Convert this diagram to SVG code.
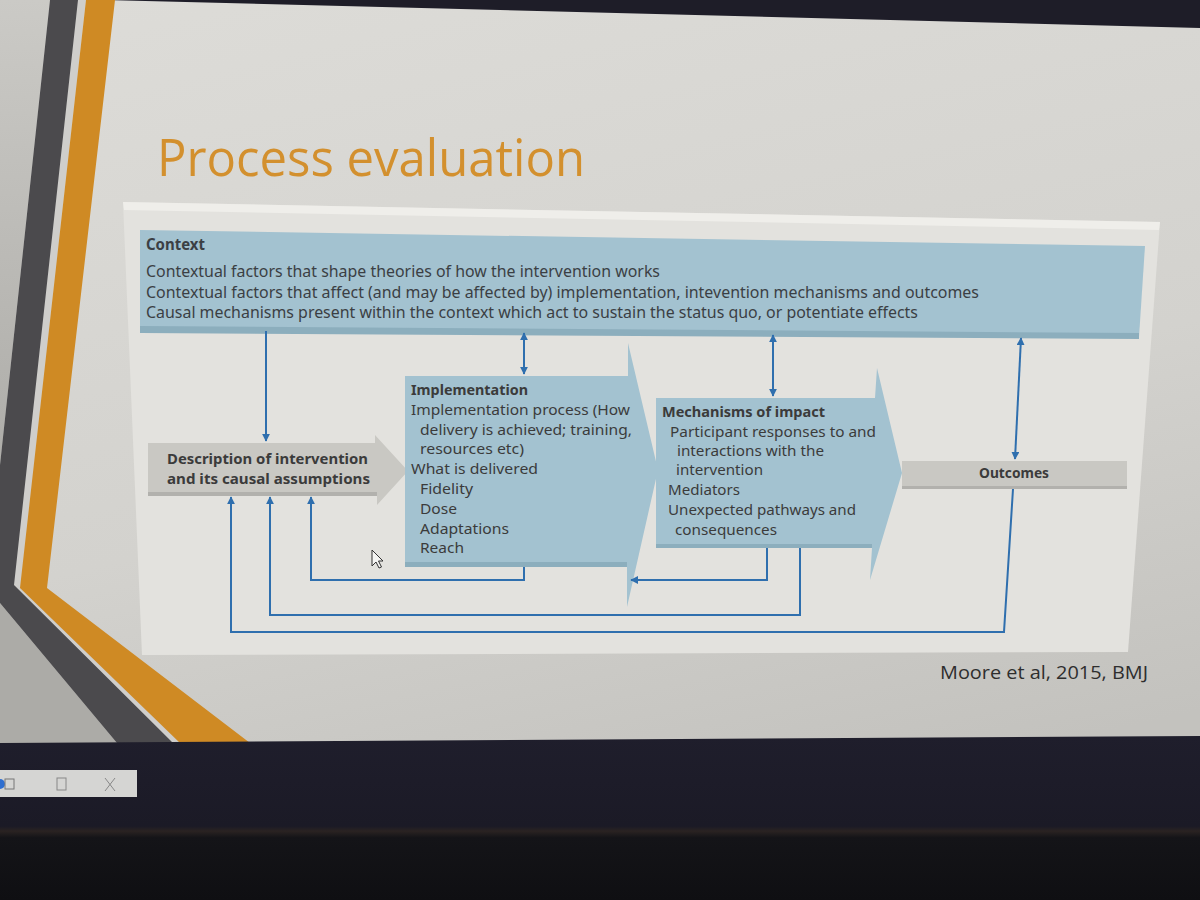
<svg xmlns="http://www.w3.org/2000/svg" width="1200" height="900" viewBox="0 0 1200 900">
<defs>
<linearGradient id="slideBg" x1="0" y1="0" x2="0.3" y2="1">
<stop offset="0" stop-color="#dddcd8"/>
<stop offset="0.6" stop-color="#d3d2ce"/>
<stop offset="1" stop-color="#c3c2be"/>
</linearGradient>
<linearGradient id="leftBg" x1="0" y1="0" x2="0" y2="1">
<stop offset="0" stop-color="#cbcac6"/>
<stop offset="1" stop-color="#aeada9"/>
</linearGradient>
<linearGradient id="bottomBg" x1="0" y1="0" x2="0" y2="1">
<stop offset="0" stop-color="#1f1e2c"/>
<stop offset="0.55" stop-color="#1b1a26"/>
<stop offset="0.58" stop-color="#2a2322"/>
<stop offset="0.62" stop-color="#141418"/>
<stop offset="1" stop-color="#0f0f12"/>
</linearGradient>
<marker id="ah" viewBox="0 0 10 10" refX="9" refY="5" markerWidth="8" markerHeight="8" markerUnits="userSpaceOnUse" orient="auto-start-reverse">
<path d="M0,0 L10,5 L0,10 Z" fill="#2f6fae"/>
</marker>
<style>
.conn{fill:none;stroke:#2f6fae;stroke-width:2}
.t{font-family:"Noto Sans","Open Sans","Liberation Sans",sans-serif;font-size:15px;fill:#3b3b3b}
.tc{font-family:"Noto Sans","Open Sans","Liberation Sans",sans-serif;font-size:16px;fill:#3b3f44}
.b{font-weight:bold}
.blue{fill:#a3c2d0}
.blueShade{fill:#8caebd}
.gray{fill:#c9c8c3}
.grayShade{fill:#b2b1ad}
</style>
</defs>

<!-- slide background -->
<rect x="0" y="0" width="1200" height="900" fill="url(#slideBg)"/>
<polygon points="0,0 50,0 0,465" fill="url(#leftBg)"/>
<polygon points="0,603 117,743 0,743" fill="#acaba7"/>
<polygon points="78,0 86,0 20,588 180,743 173,743 14,585" fill="#cfcecb"/>
<!-- top dark edge -->
<polygon points="105,0 1200,0 1200,28" fill="#1e1d28"/>
<!-- decorative stripes -->
<polygon id="darkStripe" points="50,0 78,0 14,585 173,743 117,743 0,603 0,465" fill="#4b4a4d"/>
<polygon id="orangeStripe" points="86,0 115,0 47,588 250,743 180,743 20,588" fill="#cf8a24"/>

<!-- title -->
<text x="157" y="176" font-family="'Open Sans','Noto Sans','Liberation Sans',sans-serif" font-size="52" fill="#d3902e" textLength="428" lengthAdjust="spacingAndGlyphs">Process evaluation</text>

<!-- diagram panel -->
<polygon points="123,202 1160,222 1128,652 142,655" fill="#e3e2de"/>
<polygon points="123,202 1160,222 1159,230 124,210" fill="#efeeea"/>

<!-- Context node -->
<g id="context">
<polygon points="140,230 1145,246 1139,337 140,330" class="blue"/>
<polygon points="140,326 1139,333 1139,339 140,333" class="blueShade"/>
<text class="tc b" x="146" y="250" textLength="59" lengthAdjust="spacingAndGlyphs">Context</text>
<text class="tc" x="146" y="277" textLength="514" lengthAdjust="spacingAndGlyphs">Contextual factors that shape theories of how the intervention works</text>
<text class="tc" x="146" y="298" textLength="833" lengthAdjust="spacingAndGlyphs">Contextual factors that  affect (and may be affected by) implementation, intevention mechanisms and outcomes</text>
<text class="tc" x="146" y="318" textLength="772" lengthAdjust="spacingAndGlyphs">Causal mechanisms present within the context which act to sustain the status quo, or potentiate effects</text>
</g>

<!-- Description node -->
<g id="description">
<path d="M148,443 L375,443 L375,435 L408,471 L377,505 L377,496 L148,496 Z" class="gray"/>
<rect x="148" y="492" width="229" height="4" class="grayShade"/>
<text class="t b" x="167" y="464" textLength="201" lengthAdjust="spacingAndGlyphs">Description of intervention</text>
<text class="t b" x="167" y="484" textLength="203" lengthAdjust="spacingAndGlyphs">and its causal assumptions</text>
</g>

<!-- Implementation node -->
<g id="implementation">
<path d="M405,376 L628,376 L628,343 L658,470 L627,607 L627,567 L405,567 Z" class="blue"/>
<rect x="405" y="562" width="222" height="5" class="blueShade"/>
<text class="t b" x="411" y="395" textLength="117" lengthAdjust="spacingAndGlyphs">Implementation</text>
<text class="t" x="411" y="415" textLength="219" lengthAdjust="spacingAndGlyphs">Implementation process (How</text>
<text class="t" x="420" y="435" textLength="212" lengthAdjust="spacingAndGlyphs">delivery is achieved; training,</text>
<text class="t" x="420" y="454" textLength="104" lengthAdjust="spacingAndGlyphs">resources etc)</text>
<text class="t" x="411" y="474" textLength="127" lengthAdjust="spacingAndGlyphs">What is delivered</text>
<text class="t" x="420" y="494" textLength="53" lengthAdjust="spacingAndGlyphs">Fidelity</text>
<text class="t" x="420" y="514" textLength="37" lengthAdjust="spacingAndGlyphs">Dose</text>
<text class="t" x="420" y="534" textLength="89" lengthAdjust="spacingAndGlyphs">Adaptations</text>
<text class="t" x="420" y="553" textLength="44" lengthAdjust="spacingAndGlyphs">Reach</text>
</g>

<!-- Mechanisms node -->
<g id="mechanisms">
<path d="M656,398 L875,398 L877,368 L902,473 L870,580 L872,548 L656,548 Z" class="blue"/>
<rect x="656" y="544" width="216" height="4" class="blueShade"/>
<text class="t b" x="662" y="417" textLength="163" lengthAdjust="spacingAndGlyphs">Mechanisms of impact</text>
<text class="t" x="670" y="437" textLength="206" lengthAdjust="spacingAndGlyphs">Participant responses to and</text>
<text class="t" x="677" y="456" textLength="147" lengthAdjust="spacingAndGlyphs">interactions with the</text>
<text class="t" x="676" y="475" textLength="87" lengthAdjust="spacingAndGlyphs">intervention</text>
<text class="t" x="668" y="495" textLength="72" lengthAdjust="spacingAndGlyphs">Mediators</text>
<text class="t" x="668" y="515" textLength="188" lengthAdjust="spacingAndGlyphs">Unexpected pathways and</text>
<text class="t" x="675" y="535" textLength="102" lengthAdjust="spacingAndGlyphs">consequences</text>
</g>

<!-- Outcomes node -->
<g id="outcomes">
<rect x="902" y="461" width="225" height="28" class="gray"/>
<rect x="902" y="486" width="225" height="3" class="grayShade"/>
<text class="t b" x="979" y="478" textLength="70" lengthAdjust="spacingAndGlyphs">Outcomes</text>
</g>

<!-- connectors -->
<g id="connectors">
<line class="conn" x1="266" y1="331" x2="266" y2="441" marker-end="url(#ah)"/>
<line class="conn" x1="524" y1="333" x2="524" y2="374" marker-start="url(#ah)" marker-end="url(#ah)"/>
<line class="conn" x1="773" y1="335" x2="773" y2="396" marker-start="url(#ah)" marker-end="url(#ah)"/>
<line class="conn" x1="1021" y1="338" x2="1015" y2="459" marker-start="url(#ah)" marker-end="url(#ah)"/>
<path class="conn" d="M1013,489 L1004,632 L231,632 L231,497" marker-end="url(#ah)"/>
<path class="conn" d="M800,548 L800,615 L270,615 L270,497" marker-end="url(#ah)"/>
<path class="conn" d="M524,567 L524,580 L311,580 L311,497" marker-end="url(#ah)"/>
<path class="conn" d="M767,548 L767,580 L631,580" marker-end="url(#ah)"/>
</g>

<!-- mouse pointer -->
<path d="M372,550 L372,566 L376,562 L379,568 L381.5,567 L378.5,561 L383,561 Z" fill="#f4f4f2" stroke="#333" stroke-width="1"/>

<!-- citation -->
<text x="940" y="679" font-family="'Open Sans','Noto Sans','Liberation Sans',sans-serif" font-size="19" fill="#2e2e2e" textLength="208" lengthAdjust="spacingAndGlyphs">Moore et al, 2015, BMJ</text>

<!-- screen bezel / desktop below slide -->
<polygon points="0,743 1200,736 1200,900 0,900" fill="url(#bottomBg)"/>
<g id="taskbar">
<rect x="0" y="770" width="137" height="27" fill="#d5d5d3"/>
<circle cx="0" cy="784" r="5" fill="#2f6fd0"/>
<rect x="5" y="779" width="9" height="10" fill="none" stroke="#777" stroke-width="1"/>
<rect x="57" y="778" width="9" height="12" fill="none" stroke="#888" stroke-width="1"/>
<path d="M105,778 L115,791 M115,778 L105,791" stroke="#888" stroke-width="1" fill="none"/>
</g>
</svg>
